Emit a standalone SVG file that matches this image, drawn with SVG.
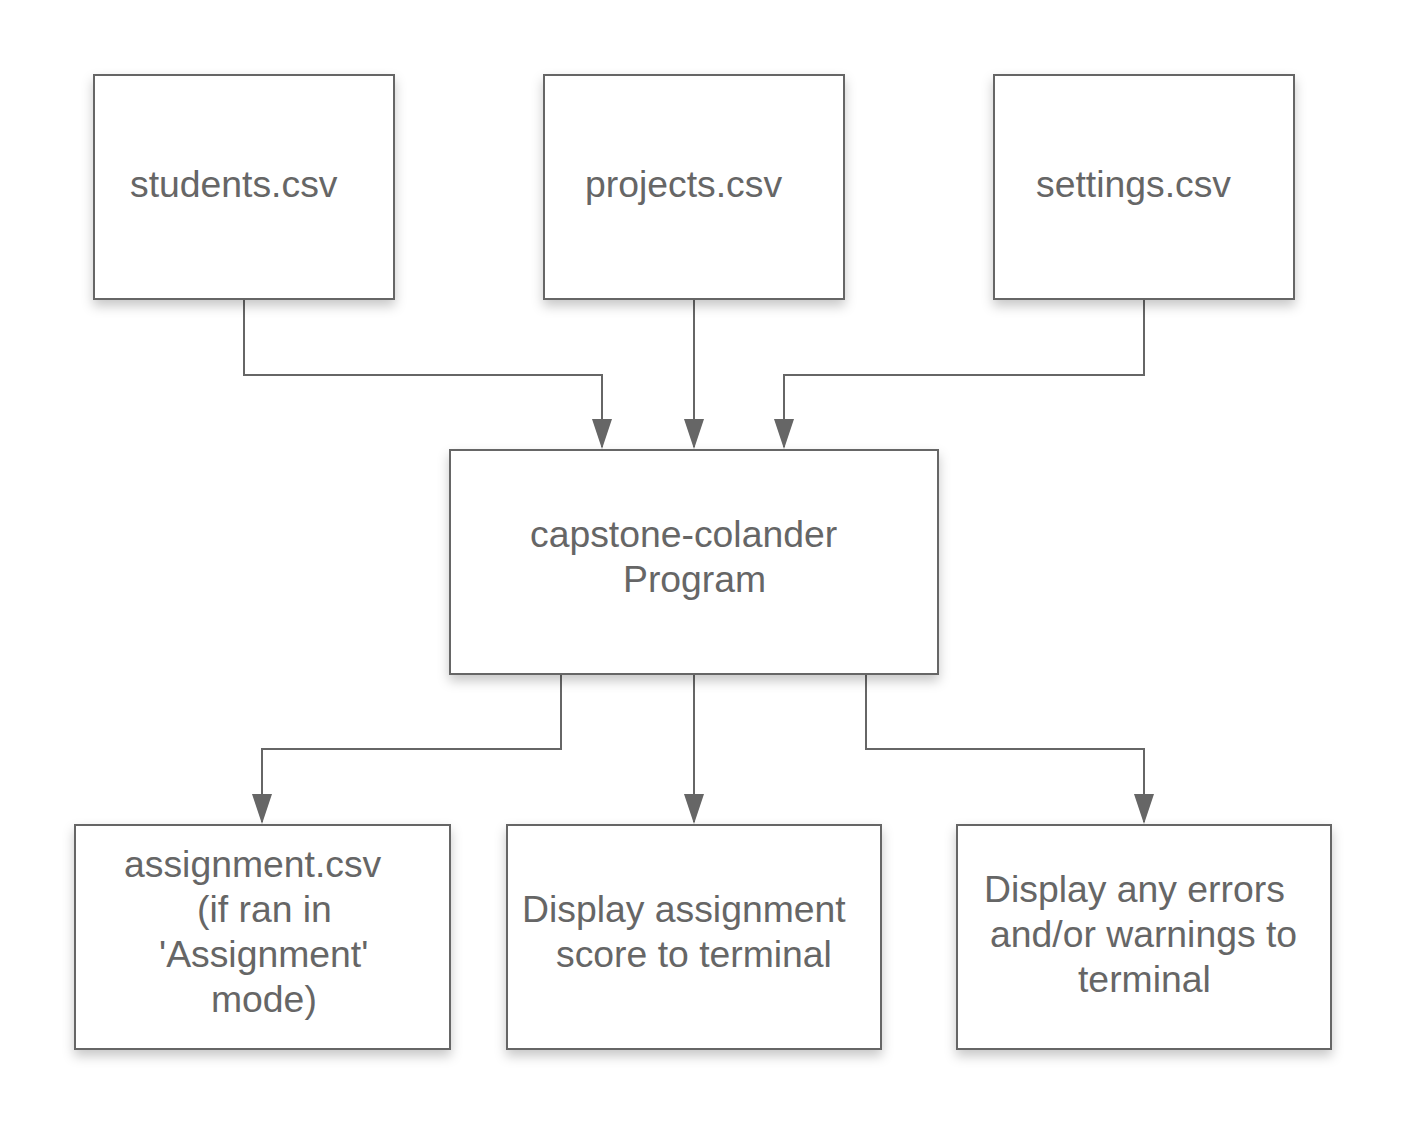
<svg xmlns="http://www.w3.org/2000/svg" width="1406" height="1125" viewBox="0 0 1406 1125">
  <style>
    .box { fill: #ffffff; stroke: #666666; stroke-width: 2; filter: url(#shadow); }
    .lbl { font-family: "Liberation Sans", Arial, sans-serif; font-size: 37.33px; fill: #666666; }
    .conn { fill: none; stroke: #666666; stroke-width: 2; marker-end: url(#arrow); }
  </style>
  <defs>
    <filter id="shadow" x="-10%" y="-10%" width="120%" height="130%">
      <feDropShadow dx="0" dy="6" stdDeviation="6" flood-color="#000000" flood-opacity="0.22"/>
    </filter>
    <marker id="arrow" viewBox="0 0 30 20" markerWidth="30" markerHeight="20" refX="28" refY="10" orient="auto" markerUnits="userSpaceOnUse">
      <path d="M0,0 L30,10 L0,20 Z" fill="#666666"/>
    </marker>
  </defs>
  <rect width="1406" height="1125" fill="#ffffff"/>

  <g id="connectors">
    <path class="conn" d="M244,299 V375 H602 V447"/>
    <path class="conn" d="M694,299 V447"/>
    <path class="conn" d="M1144,299 V375 H784 V447"/>
    <path class="conn" d="M561,674 V749 H262 V822"/>
    <path class="conn" d="M694,674 V822"/>
    <path class="conn" d="M866,674 V749 H1144 V822"/>
  </g>

  <g id="students">
    <rect class="box" x="94" y="75" width="300" height="224"/>
    <text class="lbl" x="130" y="197">students.csv</text>
  </g>
  <g id="projects">
    <rect class="box" x="544" y="75" width="300" height="224"/>
    <text class="lbl" x="585" y="197">projects.csv</text>
  </g>
  <g id="settings">
    <rect class="box" x="994" y="75" width="300" height="224"/>
    <text class="lbl" x="1036" y="197">settings.csv</text>
  </g>
  <g id="program">
    <rect class="box" x="450" y="450" width="488" height="224"/>
    <text class="lbl" x="530" y="547">capstone-colander</text>
    <text class="lbl" x="623" y="592">Program</text>
  </g>
  <g id="assignment">
    <rect class="box" x="75" y="825" width="375" height="224"/>
    <text class="lbl" x="124" y="877">assignment.csv</text>
    <text class="lbl" x="197" y="922">(if ran in</text>
    <text class="lbl" x="159" y="967">'Assignment'</text>
    <text class="lbl" x="211" y="1012">mode)</text>
  </g>
  <g id="score">
    <rect class="box" x="507" y="825" width="374" height="224"/>
    <text class="lbl" x="522" y="922">Display assignment</text>
    <text class="lbl" x="556" y="967">score to terminal</text>
  </g>
  <g id="errors">
    <rect class="box" x="957" y="825" width="374" height="224"/>
    <text class="lbl" x="984" y="902">Display any errors</text>
    <text class="lbl" x="990" y="947">and/or warnings to</text>
    <text class="lbl" x="1078" y="992">terminal</text>
  </g>
</svg>
